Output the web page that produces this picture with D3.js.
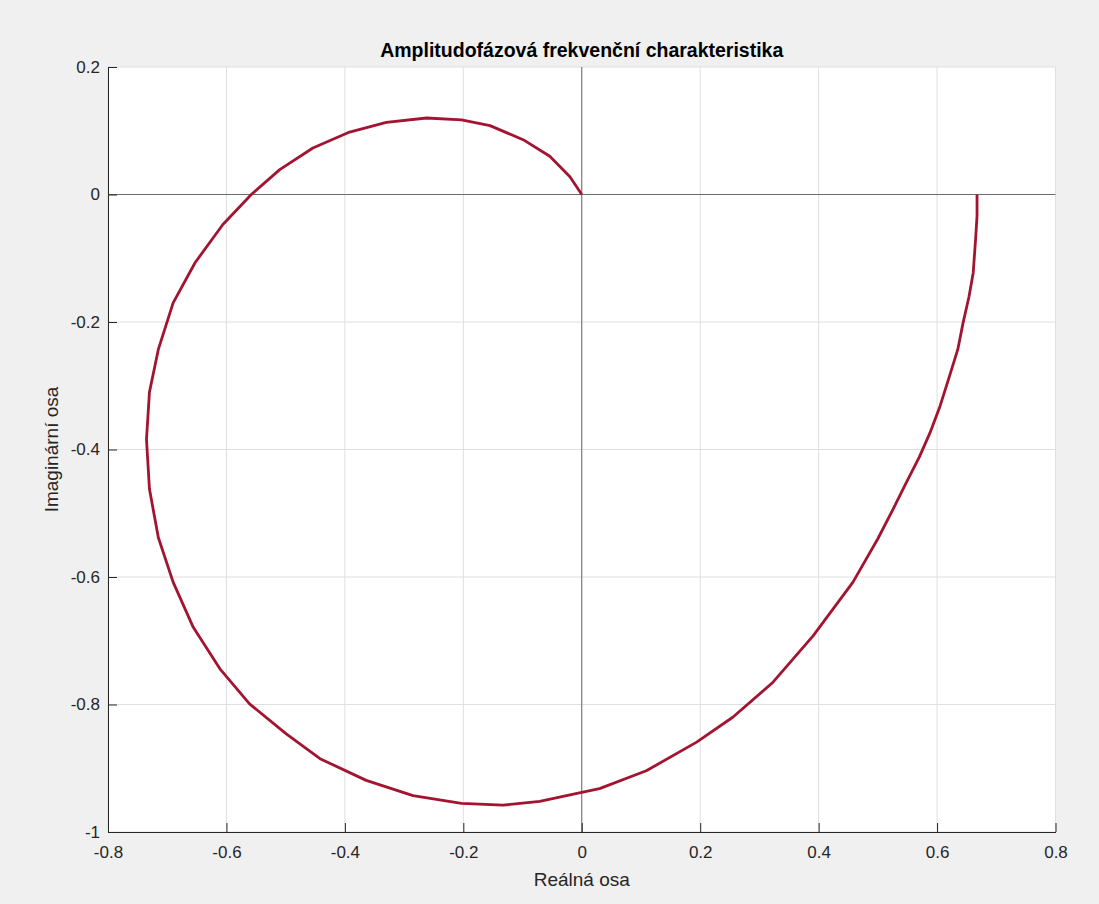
<!DOCTYPE html>
<html>
<head>
<meta charset="utf-8">
<script src="https://cdn.jsdelivr.net/npm/d3@7"></script>
<style>
  body { margin: 0; background: #f0f0f0; }
  svg { display: block; font-family: "Liberation Sans", Arial, Helvetica, sans-serif; }
</style>
</head>
<body>
<div class="nyquist"></div>
<script>
(function() {
var W = 1099, H = 904,
    margin = {top: 67, right: 43.5, bottom: 72, left: 108},
    width = W - margin.left - margin.right,
    height = H - margin.top - margin.bottom;

// Nyquist curve (w from 0 to inf)
const re = [0.6675, 0.6675, 0.665, 0.661, 0.654, 0.644, 0.635, 0.621, 0.605, 0.588, 0.570, 0.548,
            0.526, 0.500, 0.458, 0.391, 0.323, 0.255, 0.194, 0.109, 0.030, 0.0, -0.071, -0.133,
            -0.203, -0.285, -0.364, -0.442, -0.499, -0.561, -0.611, -0.656, -0.690, -0.715, -0.730,
            -0.735, -0.730, -0.715, -0.690, -0.653, -0.606, -0.558, -0.510, -0.454, -0.392, -0.330,
            -0.262, -0.203, -0.155, -0.099, -0.054, -0.020, 0.0];
const im = [0.0, -0.034, -0.071, -0.123, -0.160, -0.201, -0.243, -0.285, -0.332, -0.374, -0.412, -0.452,
            -0.493, -0.540, -0.608, -0.692, -0.765, -0.820, -0.859, -0.904, -0.932, -0.938, -0.952, -0.958,
            -0.955, -0.943, -0.919, -0.885, -0.846, -0.799, -0.744, -0.679, -0.608, -0.538, -0.462,
            -0.384, -0.310, -0.243, -0.170, -0.107, -0.047, 0.0, 0.039, 0.073, 0.098, 0.113,
            0.120, 0.117, 0.108, 0.086, 0.060, 0.028, 0.0];

const xTicks = [-0.8, -0.6, -0.4, -0.2, 0, 0.2, 0.4, 0.6, 0.8];
const yTicks = [-1, -0.8, -0.6, -0.4, -0.2, 0, 0.2];

const title = "Amplitudofázová frekvenční charakteristika",
      xLabel = "Reálná osa",
      yLabel = "Imaginární osa";

var svg = d3.select(".nyquist").append("svg")
    .attr("width", W).attr("height", H);

var x = d3.scaleLinear().domain([-0.8, 0.8]).range([0, width]);
var y = d3.scaleLinear().domain([-1, 0.2]).range([height, 0]);

var g = svg.append("g")
    .attr("transform", "translate(" + margin.left + "," + margin.top + ")");

g.append("rect")
    .attr("width", width).attr("height", height)
    .attr("fill", "#fff");

// grid
g.append("g").selectAll("line")
    .data(xTicks).enter().append("line")
    .attr("x1", d => x(d)).attr("x2", d => x(d))
    .attr("y1", 0).attr("y2", height)
    .attr("stroke", "#dfdfdf");
g.append("g").selectAll("line")
    .data(yTicks).enter().append("line")
    .attr("y1", d => y(d)).attr("y2", d => y(d))
    .attr("x1", 0).attr("x2", width)
    .attr("stroke", "#dfdfdf");

// zero lines
g.append("line")
    .attr("x1", x(0)).attr("x2", x(0)).attr("y1", 0).attr("y2", height)
    .attr("stroke", "#6b6b6b");
g.append("line")
    .attr("x1", 0).attr("x2", width).attr("y1", y(0)).attr("y2", y(0))
    .attr("stroke", "#6b6b6b");

var fmt = d => String(+d.toFixed(1));

var xAxis = g.append("g")
    .attr("transform", "translate(0," + height + ")")
    .call(d3.axisBottom(x).tickValues(xTicks).tickFormat(fmt)
        .tickSizeInner(-9).tickSizeOuter(0).tickPadding(14));
var yAxis = g.append("g")
    .call(d3.axisLeft(y).tickValues(yTicks).tickFormat(fmt)
        .tickSizeInner(-9).tickSizeOuter(0).tickPadding(8));

[xAxis, yAxis].forEach(a => {
  a.attr("font-family", null).attr("font-size", 17);
  a.select(".domain").attr("stroke", "#262626");
  a.selectAll(".tick line").attr("stroke", "#262626");
  a.selectAll(".tick text").attr("fill", "#262626");
});

// curve
var pts = re.map((r, i) => [r, im[i]]);
var line = d3.line()
    .x(d => x(d[0]))
    .y(d => y(d[1]));

g.append("path")
    .datum(pts)
    .attr("d", line)
    .attr("fill", "none")
    .attr("stroke", "#a2142f")
    .attr("stroke-width", 2.8)
    .attr("stroke-linejoin", "round");

// texts
svg.append("text")
    .attr("x", margin.left + width / 2).attr("y", 57)
    .attr("text-anchor", "middle")
    .attr("font-size", 19.5).attr("font-weight", "bold")
    .attr("fill", "#000")
    .text(title);

svg.append("text")
    .attr("x", margin.left + width / 2).attr("y", 886)
    .attr("text-anchor", "middle")
    .attr("font-size", 19).attr("fill", "#262626")
    .text(xLabel);

svg.append("text")
    .attr("transform", "translate(58," + (margin.top + height / 2) + ") rotate(-90)")
    .attr("text-anchor", "middle")
    .attr("font-size", 19).attr("fill", "#262626")
    .text(yLabel);
}())
</script>
</body>
</html>
